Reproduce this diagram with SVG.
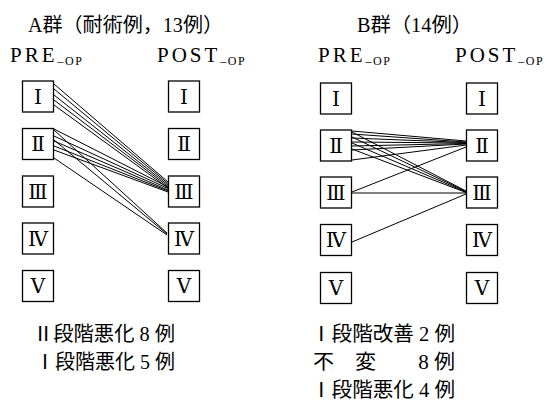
<svg xmlns="http://www.w3.org/2000/svg" width="547" height="403" viewBox="0 0 547 403">
<style>
.bg{fill:#fff}
.box rect{fill:#fff;stroke:#000;stroke-width:1.3}
.box text{font-family:"Liberation Serif","DejaVu Serif","Noto Sans CJK JP",serif;font-size:20px;text-anchor:middle;fill:#000}
.t{font-family:"Liberation Serif","Noto Sans CJK JP",serif;font-size:20px;fill:#000}
.h{font-family:"Liberation Serif","DejaVu Serif",serif;font-size:21px;letter-spacing:3px;fill:#000}
.sub{font-size:12px;letter-spacing:1.5px}
#connectors line{stroke:#000;stroke-width:1}
</style>
<rect class="bg" x="0" y="0" width="547" height="403"/>
<g id="headers">
<text class="t" x="28" y="32" textLength="195" lengthAdjust="spacingAndGlyphs">A群（耐術例，13例）</text>
<text class="t" x="357" y="32" textLength="115" lengthAdjust="spacingAndGlyphs">B群（14例）</text>
<text class="h" x="10" y="62">PRE<tspan class="sub" dy="3">–OP</tspan></text>
<text class="h" x="157" y="62">POST<tspan class="sub" dy="3">–OP</tspan></text>
<text class="h" x="318" y="62">PRE<tspan class="sub" dy="3">–OP</tspan></text>
<text class="h" x="455" y="62">POST<tspan class="sub" dy="3">–OP</tspan></text>
</g>
<g id="connectors">
<line x1="54" y1="84" x2="168" y2="182"/>
<line x1="54" y1="89" x2="168" y2="183.5"/>
<line x1="54" y1="95" x2="168" y2="185"/>
<line x1="54" y1="100" x2="168" y2="186.5"/>
<line x1="54" y1="105" x2="168" y2="188"/>
<line x1="54" y1="129" x2="168" y2="187"/>
<line x1="54" y1="136" x2="168" y2="188.5"/>
<line x1="54" y1="141" x2="168" y2="190"/>
<line x1="54" y1="146" x2="168" y2="191"/>
<line x1="54" y1="150" x2="168" y2="192"/>
<line x1="54" y1="130" x2="167" y2="233"/>
<line x1="54" y1="140" x2="167" y2="234"/>
<line x1="54" y1="158" x2="167" y2="235"/>
<line x1="352" y1="131" x2="466" y2="141"/>
<line x1="352" y1="134" x2="466" y2="142"/>
<line x1="352" y1="138" x2="466" y2="142.5"/>
<line x1="352" y1="142" x2="466" y2="143"/>
<line x1="352" y1="146" x2="466" y2="143.5"/>
<line x1="352" y1="150" x2="466" y2="144"/>
<line x1="352" y1="160" x2="466" y2="145"/>
<line x1="352" y1="132" x2="466" y2="191"/>
<line x1="352" y1="137" x2="466" y2="191.5"/>
<line x1="352" y1="143" x2="466" y2="192"/>
<line x1="352" y1="149" x2="466" y2="192.5"/>
<line x1="352" y1="192" x2="466" y2="147"/>
<line x1="352" y1="193" x2="466" y2="193"/>
<line x1="352" y1="242" x2="466" y2="194"/>
</g>
<g id="A-pre-1" class="box"><rect x="22.5" y="81" width="31" height="31"/><text x="38" y="103.5">Ⅰ</text></g>
<g id="A-pre-2" class="box"><rect x="22.5" y="128.5" width="31" height="31"/><text x="38" y="151">Ⅱ</text></g>
<g id="A-pre-3" class="box"><rect x="22.5" y="176" width="31" height="31"/><text x="38" y="198.5">Ⅲ</text></g>
<g id="A-pre-4" class="box"><rect x="22.5" y="223" width="31" height="31"/><text x="38" y="245.5">Ⅳ</text></g>
<g id="A-pre-5" class="box"><rect x="22.5" y="270.5" width="31" height="31"/><text x="38" y="293">Ⅴ</text></g>
<g id="A-post-1" class="box"><rect x="168.5" y="81" width="31" height="31"/><text x="184" y="103.5">Ⅰ</text></g>
<g id="A-post-2" class="box"><rect x="168.5" y="128.5" width="31" height="31"/><text x="184" y="151">Ⅱ</text></g>
<g id="A-post-3" class="box"><rect x="168.5" y="176" width="31" height="31"/><text x="184" y="198.5">Ⅲ</text></g>
<g id="A-post-4" class="box"><rect x="168.5" y="223" width="31" height="31"/><text x="184" y="245.5">Ⅳ</text></g>
<g id="A-post-5" class="box"><rect x="168.5" y="270.5" width="31" height="31"/><text x="184" y="293">Ⅴ</text></g>
<g id="B-pre-1" class="box"><rect x="320.5" y="83" width="31" height="31"/><text x="336" y="105.5">Ⅰ</text></g>
<g id="B-pre-2" class="box"><rect x="320.5" y="130" width="31" height="31"/><text x="336" y="152.5">Ⅱ</text></g>
<g id="B-pre-3" class="box"><rect x="320.5" y="177" width="31" height="31"/><text x="336" y="199.5">Ⅲ</text></g>
<g id="B-pre-4" class="box"><rect x="320.5" y="224.5" width="31" height="31"/><text x="336" y="247">Ⅳ</text></g>
<g id="B-pre-5" class="box"><rect x="320.5" y="272.5" width="31" height="31"/><text x="336" y="295">Ⅴ</text></g>
<g id="B-post-1" class="box"><rect x="466.5" y="83" width="31" height="31"/><text x="482" y="105.5">Ⅰ</text></g>
<g id="B-post-2" class="box"><rect x="466.5" y="130" width="31" height="31"/><text x="482" y="152.5">Ⅱ</text></g>
<g id="B-post-3" class="box"><rect x="466.5" y="177" width="31" height="31"/><text x="482" y="199.5">Ⅲ</text></g>
<g id="B-post-4" class="box"><rect x="466.5" y="224.5" width="31" height="31"/><text x="482" y="247">Ⅳ</text></g>
<g id="B-post-5" class="box"><rect x="466.5" y="272.5" width="31" height="31"/><text x="482" y="295">Ⅴ</text></g>
<g id="summary">
<text class="t" x="33" y="341" textLength="142" lengthAdjust="spacingAndGlyphs">Ⅱ段階悪化 8 例</text>
<text class="t" x="35" y="369" textLength="140" lengthAdjust="spacingAndGlyphs">Ⅰ段階悪化 5 例</text>
<text class="t" x="311" y="341" textLength="144" lengthAdjust="spacingAndGlyphs">Ⅰ段階改善 2 例</text>
<text class="t" x="313" y="369" textLength="142" lengthAdjust="spacingAndGlyphs">不　変　　8 例</text>
<text class="t" x="311" y="397" textLength="144" lengthAdjust="spacingAndGlyphs">Ⅰ段階悪化 4 例</text>
</g>
</svg>
